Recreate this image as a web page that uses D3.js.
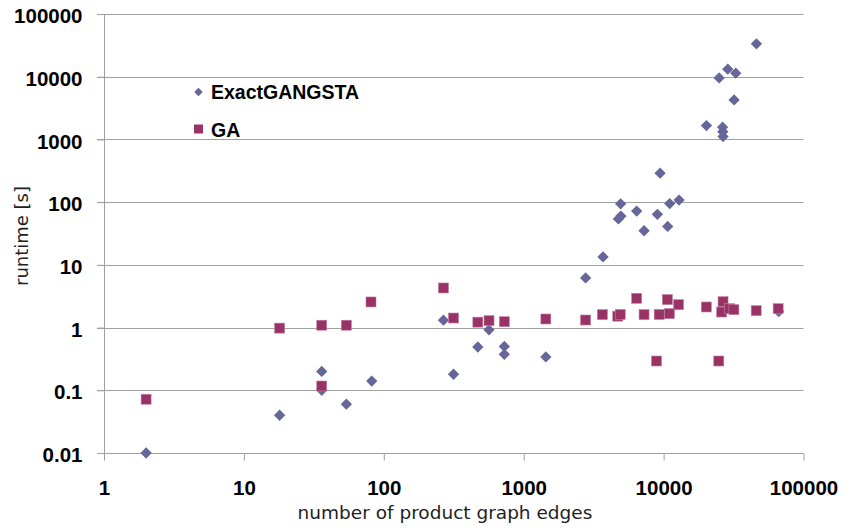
<!DOCTYPE html>
<html>
<head>
<meta charset="utf-8">
<script src="https://cdn.jsdelivr.net/npm/d3@7"></script>
<style>
  body { margin: 0; background: #fff; }
  svg { display: block; }
</style>
</head>
<body>
<div id="chart"></div>
<script>
// edges vs runtime
const exactEdges = [2, 18, 36, 36, 54, 82, 267, 315, 470, 565, 727, 727, 1440, 2770, 3690,
  4750, 4950, 4930, 6420, 7250, 9030, 9440, 10700, 11060, 12900, 20240, 24950,
  26400, 26500, 26600, 28760, 31920, 32800, 46100, 66500]
const exactRuntime = [0.01, 0.04, 0.2, 0.1, 0.06, 0.14, 1.31, 0.18, 0.49, 0.92, 0.5, 0.375, 0.34, 6.2, 13.4,
  54, 60, 94, 72, 35, 64, 290, 41, 95, 108, 1660, 9570,
  1570, 1330, 1110, 13200, 4270, 11400, 33400, 1.8]

const gaEdges = [2, 18, 36, 36, 54, 81, 267, 315, 470, 565, 727, 1440, 2770, 3650, 4700,
  4900, 6420, 7250, 8900, 9300, 10650, 11000, 12800, 20200, 24800, 26000, 26600,
  29500, 31800, 45900, 65900]
const gaRuntime = [0.072, 0.98, 1.09, 0.117, 1.09, 2.56, 4.28, 1.42, 1.22, 1.29, 1.24, 1.37, 1.32, 1.61, 1.52,
  1.62, 2.93, 1.61, 0.293, 1.62, 2.79, 1.67, 2.32, 2.13, 0.293, 1.77, 2.59,
  2.0, 1.93, 1.86, 2.0]

const xTicks = [1, 10, 100, 1000, 10000, 100000]
const yTicks = [0.01, 0.1, 1, 10, 100, 1000, 10000, 100000]
const seriesNames = ['ExactGANGSTA', 'GA']

const width = 846, height = 530
const plotLeft = 104, plotRight = 803.5, plotTop = 14, plotBottom = 453
const grey = '#a0a0a0'
const blue = '#666699', plum = '#993366'
const tickFont = '"Liberation Sans", Arial, sans-serif'
const titleFont = '"DejaVu Sans", Verdana, sans-serif'

const svg = d3.select('#chart').append('svg')
  .attr('width', width)
  .attr('height', height)

const x = d3.scaleLog().domain([1, 100000]).range([plotLeft, plotRight])
const y = d3.scaleLog().domain([0.01, 100000]).range([plotBottom, plotTop])

const fmt = d => d < 1 ? String(d) : d3.format('d')(d)

// horizontal gridlines
svg.append('g')
  .selectAll('line')
  .data(yTicks)
  .join('line')
  .attr('x1', plotLeft - 7)
  .attr('x2', plotRight)
  .attr('y1', d => Math.round(y(d)) + 0.5)
  .attr('y2', d => Math.round(y(d)) + 0.5)
  .attr('stroke', grey)

// y axis
const yAxis = svg.append('g')
  .attr('transform', `translate(${Math.round(plotLeft) + 0.5},0)`)
  .call(d3.axisLeft(y).tickValues(yTicks).tickFormat(fmt).tickSize(7).tickPadding(15))
yAxis.select('.domain').attr('stroke', grey).attr('d', `M0,${plotTop}V${plotBottom + 7}`)
yAxis.selectAll('.tick line').attr('stroke', grey)
yAxis.selectAll('.tick text')
  .attr('font-family', tickFont)
  .attr('font-weight', 'bold')
  .attr('font-size', 20.5)
  .attr('dy', '0.42em')
  .attr('fill', '#000')

// x axis
const xAxis = svg.append('g')
  .attr('transform', `translate(0,${Math.round(plotBottom) + 0.5})`)
  .call(d3.axisBottom(x).tickValues(xTicks).tickFormat(fmt).tickSize(7).tickPadding(20))
xAxis.select('.domain').attr('stroke', grey).attr('d', `M${plotLeft},0H${plotRight}`)
xAxis.selectAll('.tick line').attr('stroke', grey)
xAxis.selectAll('.tick text')
  .attr('font-family', tickFont)
  .attr('font-weight', 'bold')
  .attr('font-size', 20.5)
  .attr('fill', '#000')

// series
const diamond = d3.symbol(d3.symbolSquare, 64)
svg.append('g')
  .selectAll('path')
  .data(exactEdges.map((e, i) => [e, exactRuntime[i]]))
  .join('path')
  .attr('d', diamond)
  .attr('transform', d => `translate(${x(d[0])},${y(d[1])}) rotate(45)`)
  .attr('fill', blue)

svg.append('g')
  .selectAll('rect')
  .data(gaEdges.map((e, i) => [e, gaRuntime[i]]))
  .join('rect')
  .attr('x', d => x(d[0]) - 5)
  .attr('y', d => y(d[1]) - 5)
  .attr('width', 10)
  .attr('height', 10)
  .attr('fill', plum)
  .attr('stroke', '#c27fa2')
  .attr('stroke-width', 0.6)

// legend
const legend = svg.append('g')
legend.append('path')
  .attr('d', d3.symbol(d3.symbolSquare, 36))
  .attr('transform', 'translate(198.5,92) rotate(45)')
  .attr('fill', blue)
legend.append('rect')
  .attr('x', 194).attr('y', 124.5).attr('width', 9).attr('height', 9)
  .attr('fill', plum)
legend.selectAll('text')
  .data(seriesNames)
  .join('text')
  .attr('x', 211)
  .attr('y', (d, i) => 92 + i * 37.5)
  .attr('dy', '0.36em')
  .attr('font-family', tickFont)
  .attr('font-weight', 'bold')
  .attr('font-size', 19.5)
  .text(d => d)

// axis titles
svg.append('text')
  .attr('x', 445)
  .attr('y', 519)
  .attr('text-anchor', 'middle')
  .attr('font-family', titleFont)
  .attr('font-size', 18.5)
  .attr('fill', '#222')
  .text('number of product graph edges')

svg.append('text')
  .attr('transform', 'translate(28,236) rotate(-90)')
  .attr('text-anchor', 'middle')
  .attr('font-family', titleFont)
  .attr('font-size', 18)
  .attr('fill', '#222')
  .text('runtime [s]')
</script>
</body>
</html>
